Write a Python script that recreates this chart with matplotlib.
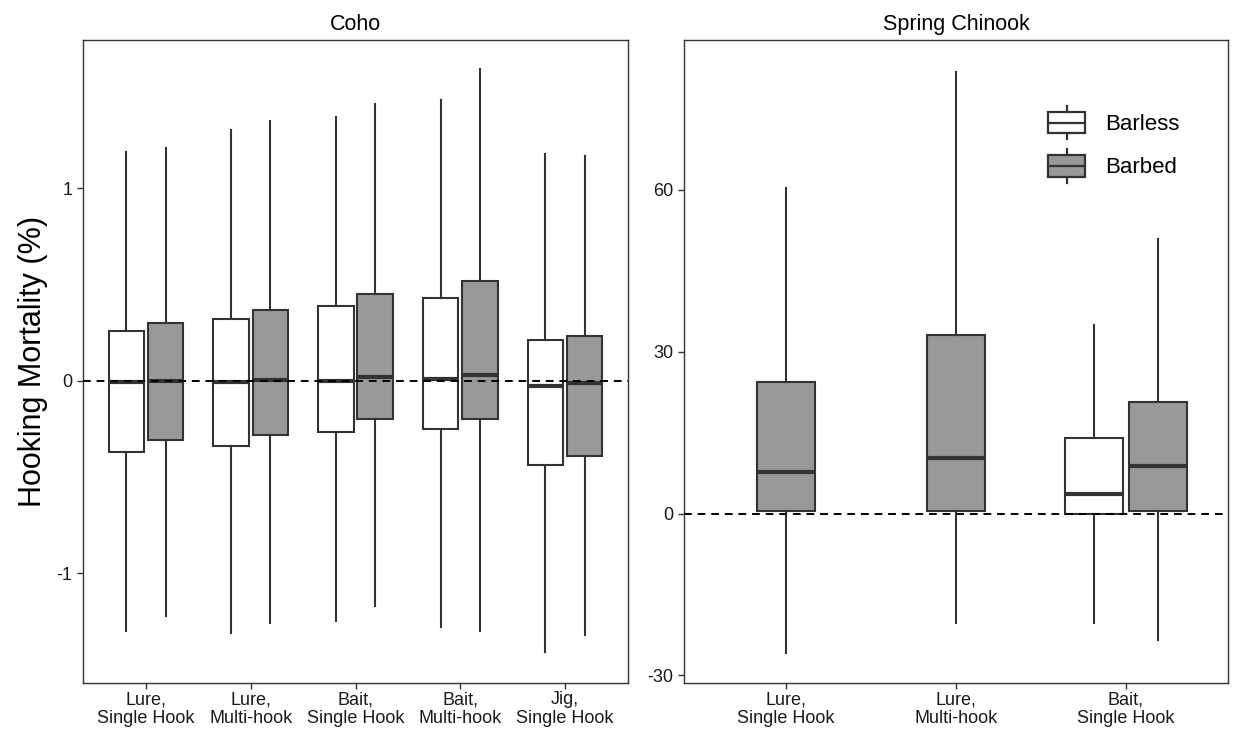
import matplotlib
matplotlib.use("Agg")
import matplotlib.pyplot as plt
from matplotlib.legend_handler import HandlerBase
from matplotlib.patches import Rectangle, Patch
from matplotlib.lines import Line2D
import numpy as np

plt.rcParams["font.family"] = ["Liberation Sans", "DejaVu Sans"]
plt.rcParams["axes.unicode_minus"] = False

EDGE = "#333333"
FILLS = {"Barless": "white", "Barbed": "#999999"}

# ---- data ----
coho_cats = ["Lure,\nSingle Hook", "Lure,\nMulti-hook", "Bait,\nSingle Hook",
             "Bait,\nMulti-hook", "Jig,\nSingle Hook"]
# whislo, q1, med, q3, whishi
coho_barless = [
    [-1.30, -0.37, -0.005, 0.26, 1.19],
    [-1.31, -0.34, -0.005, 0.32, 1.30],
    [-1.25, -0.265, 0.00, 0.39, 1.37],
    [-1.28, -0.25, 0.01, 0.43, 1.46],
    [-1.41, -0.44, -0.025, 0.21, 1.18],
]
coho_barbed = [
    [-1.22, -0.31, 0.00, 0.30, 1.21],
    [-1.26, -0.28, 0.005, 0.37, 1.35],
    [-1.17, -0.20, 0.02, 0.45, 1.44],
    [-1.30, -0.20, 0.03, 0.52, 1.62],
    [-1.32, -0.39, -0.01, 0.23, 1.17],
]

chinook_cats = ["Lure,\nSingle Hook", "Lure,\nMulti-hook", "Bait,\nSingle Hook"]
chinook_barless = [None, None, [-20.3, 0.0, 3.7, 14.0, 34.9]]
chinook_barbed = [
    [-25.9, 0.4, 7.8, 24.4, 60.3],
    [-20.3, 0.4, 10.4, 33.1, 81.9],
    [-23.5, 0.4, 8.9, 20.7, 51.0],
]

coho_yticks = [-1, 0, 1]
chinook_yticks = [-30, 0, 30, 60]


def to_stats(v):
    return dict(whislo=v[0], q1=v[1], med=v[2], q3=v[3], whishi=v[4], fliers=[])


def draw_panel(ax, cats, barless, barbed):
    box_w = 0.3375
    off = 0.1875
    for i, (bl, bb) in enumerate(zip(barless, barbed)):
        x = i + 1
        groups = [(g, v) for g, v in (("Barless", bl), ("Barbed", bb)) if v is not None]
        if len(groups) == 1:
            positions = [x]
        else:
            positions = [x - off, x + off]
        for (g, v), p in zip(groups, positions):
            ax.bxp([to_stats(v)], positions=[p], widths=box_w, showcaps=False,
                   showfliers=False, patch_artist=True,
                   boxprops=dict(facecolor=FILLS[g], edgecolor=EDGE, linewidth=1.5),
                   whiskerprops=dict(color=EDGE, linewidth=1.5),
                   medianprops=dict(color=EDGE, linewidth=3.0, solid_capstyle="butt"),
                   manage_ticks=False)
    ax.axhline(0, color="black", linestyle=(0, (4, 3)), linewidth=1.4, zorder=5)
    ax.set_xlim(0.4, len(cats) + 0.6)
    ax.set_xticks(np.arange(1, len(cats) + 1))
    ax.set_xticklabels(cats, fontsize=13, linespacing=1.15)
    for s in ax.spines.values():
        s.set_color(EDGE)
        s.set_linewidth(1.0)
    ax.tick_params(colors=EDGE, length=4, width=1.0, labelcolor="#1a1a1a")
    ax.tick_params(axis="y", labelsize=13)
    ax.tick_params(axis="x", pad=2)


class BoxHandler(HandlerBase):
    def create_artists(self, legend, orig_handle, xdescent, ydescent,
                       width, height, fontsize, trans):
        fc = orig_handle.get_facecolor()
        x0, y0 = -xdescent, -ydescent
        bh = height * 0.64
        by = y0 + (height - bh) / 2
        rect = Rectangle((x0, by), width, bh, facecolor=fc, edgecolor=EDGE,
                         linewidth=1.6, transform=trans)
        med = Line2D([x0, x0 + width], [by + bh / 2] * 2, color=EDGE,
                     linewidth=1.6, transform=trans)
        wt = Line2D([x0 + width / 2] * 2, [by + bh, y0 + height], color=EDGE,
                    linewidth=1.6, transform=trans)
        wb = Line2D([x0 + width / 2] * 2, [y0, by], color=EDGE,
                    linewidth=1.6, transform=trans)
        return [rect, med, wt, wb]


fig = plt.figure(figsize=(12.38, 7.40), dpi=100)
W, H = 1238, 740
ax1 = fig.add_axes([83 / W, 1 - 683 / H, (628 - 83) / W, (683 - 40) / H])
ax2 = fig.add_axes([684 / W, 1 - 683 / H, (1228 - 684) / W, (683 - 40) / H])

draw_panel(ax1, coho_cats, coho_barless, coho_barbed)
ax1.set_ylim(-1.57, 1.77)
ax1.set_yticks(coho_yticks)
ax1.set_ylabel("Hooking Mortality (%)", fontsize=22, labelpad=6)
ax1.set_title("Coho", fontsize=15.5, pad=7)

draw_panel(ax2, chinook_cats, chinook_barless, chinook_barbed)
ax2.set_ylim(-31.4, 87.8)
ax2.set_yticks(chinook_yticks)
ax2.set_title("Spring Chinook", fontsize=15.5, pad=7)

handles = [Patch(facecolor=FILLS[k], label=k) for k in ("Barless", "Barbed")]
ax2.legend(handles=handles, handler_map={Patch: BoxHandler()},
           loc="upper left", bbox_to_anchor=(0.649, 0.915), frameon=False,
           fontsize=16, handlelength=1.67, handleheight=1.95,
           handletextpad=0.9, labelspacing=0.45, borderpad=0)

fig.savefig("out.png", dpi=100)
